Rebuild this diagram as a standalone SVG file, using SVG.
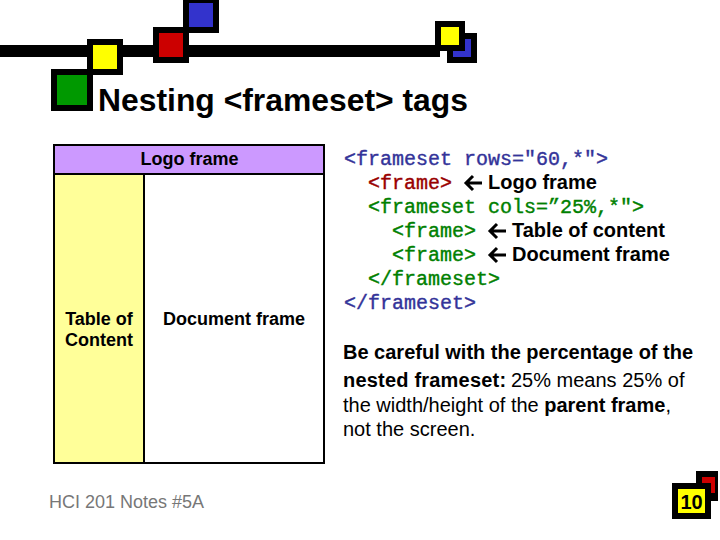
<svg xmlns="http://www.w3.org/2000/svg" width="720" height="540" viewBox="0 0 720 540">
<style>
.s{font-family:"Liberation Sans",Arial,sans-serif;fill:#000}
.b{font-weight:bold;font-size:18px}
.c{font-weight:bold;font-size:20px}
.p{font-size:20px}
.m{font-family:"Liberation Mono","Courier New",monospace;font-size:20px;stroke-width:0.4}
.bl{fill:#333399;stroke:#333399}.rd{fill:#990000;stroke:#990000}.gr{fill:#008000;stroke:#008000}
.k{fill:#000}
</style>
<rect width="720" height="540" fill="#fff"/>
<g id="decor">
<rect class="k" x="0" y="45" width="440" height="12"/>
<rect class="k" x="183" y="0" width="36" height="33"/><rect x="189" y="3" width="24" height="24" fill="#3333cc"/>
<rect class="k" x="153" y="27" width="36" height="36"/><rect x="159" y="33" width="24" height="24" fill="#cc0000"/>
<rect class="k" x="87" y="39" width="36" height="36"/><rect x="93" y="45" width="24" height="24" fill="#ffff00"/>
<rect class="k" x="51" y="69" width="42" height="42"/><rect x="57" y="75" width="30" height="30" fill="#009900"/>
<rect class="k" x="447" y="33" width="30" height="30"/><rect x="453" y="39" width="18" height="18" fill="#3333cc"/>
<rect class="k" x="435" y="21" width="30" height="30"/><rect x="441" y="27" width="18" height="18" fill="#ffff00"/>
<rect class="k" x="696" y="471" width="22" height="30"/><rect x="702" y="477" width="13" height="16" fill="#cc0000"/>
<rect class="k" x="672" y="483" width="39" height="36"/><rect x="678" y="489" width="27" height="24" fill="#ffff00"/>
</g>
<text class="s" x="98" y="111" font-size="32" font-weight="bold" textLength="370" lengthAdjust="spacingAndGlyphs">Nesting &lt;frameset&gt; tags</text>
<g id="frames">
<g id="logo"><rect x="54" y="145" width="270" height="29" fill="#cc99ff" stroke="#000" stroke-width="2"/>
<text class="s b" x="189.500" y="165" text-anchor="middle">Logo frame</text></g>
<g id="toc"><rect x="54" y="174" width="90" height="289" fill="#ffff99" stroke="#000" stroke-width="2"/>
<text class="s b" x="99" y="325" text-anchor="middle">Table of</text>
<text class="s b" x="99" y="346" text-anchor="middle">Content</text></g>
<g id="doc"><rect x="144" y="174" width="180" height="289" fill="#fff" stroke="#000" stroke-width="2"/>
<text class="s b" x="234" y="325" text-anchor="middle">Document frame</text></g>
</g>
<text class="s" x="49" y="508" font-size="18" style="fill:#777">HCI 201 Notes #5A</text>
<g id="code">
<text class="m bl" x="344" y="165">&lt;frameset rows="60,*"&gt;</text>
<text class="m rd" x="368" y="189">&lt;frame&gt;</text>
<text class="s c" x="488" y="189">Logo frame</text>
<text class="m gr" x="368" y="213">&lt;frameset cols=”25%,*"&gt;</text>
<text class="m gr" x="392" y="237">&lt;frame&gt;</text>
<text class="s c" x="512" y="237">Table of content</text>
<text class="m gr" x="392" y="261">&lt;frame&gt;</text>
<text class="s c" x="512" y="261">Document frame</text>
<text class="m gr" x="368" y="285">&lt;/frameset&gt;</text>
<text class="m bl" x="344" y="309">&lt;/frameset&gt;</text>
<g id="arrows" fill="none" stroke="#000" stroke-width="3">
<path d="M466 183H482M473 176L466 183L473 190"/>
<path d="M490 231H506M497 224L490 231L497 238"/>
<path d="M490 255H506M497 248L490 255L497 262"/>
</g>
</g>
<g id="note">
<text class="s c" x="343" y="359">Be careful with the percentage of the</text>
<text class="s p" x="343" y="387"><tspan font-weight="bold" letter-spacing="0.2">nested frameset:</tspan> <tspan x="511">25% means 25% of</tspan></text>
<text class="s p" x="343" y="412">the width/height of the <tspan font-weight="bold">parent frame</tspan>,</text>
<text class="s p" x="343" y="436">not the screen.</text>
</g>
<text class="s" x="691.500" y="509" font-size="20" font-weight="bold" text-anchor="middle">10</text>
</svg>
